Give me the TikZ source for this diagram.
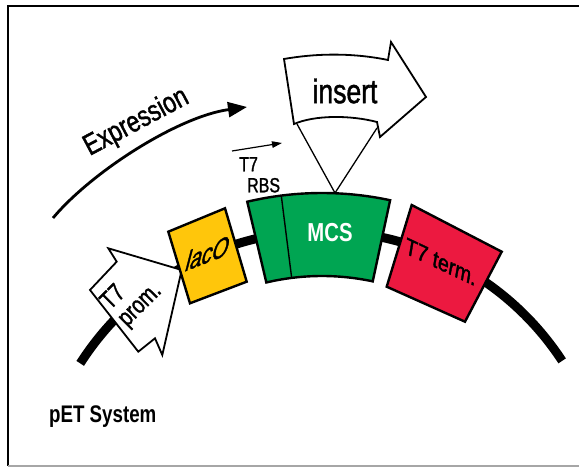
\documentclass[tikz,border=0pt]{standalone}
\usepackage{fontspec}
\setmainfont{Liberation Sans}[FakeStretch=0.78, FakeBold=1.4]
\newfontfamily\headfont{Liberation Sans Bold}[FakeStretch=0.78]
\usetikzlibrary{arrows.meta}
\definecolor{lacYellow}{RGB}{255,198,11}
\definecolor{mcsGreen}{RGB}{0,165,82}
\definecolor{termRed}{RGB}{236,25,64}
\tikzset{
  txt/.style={inner sep=0pt, text=black},
  part/.style={draw=black, line width=2.4pt, line join=miter},
  blockarrow/.style={draw=black, fill=white, line width=1.8pt, line join=miter},
}
\begin{document}
\begin{tikzpicture}[x=1pt,y=1pt]
\useasboundingbox (0,0) rectangle (579,468);
\clip (0,0) rectangle (579,468);
\fill[white] (0,0) rectangle (579,468);
% frame
\draw[line width=2pt] (584,462) -- (7.5,462) -- (7.5,2);
\draw[gray!70, line width=1.2pt] (7.5,2) -- (584,2);

% plasmid backbone
\draw[line width=9pt, shift={(322,-50)}] (147.4:287) arc[start angle=147.4, end angle=33.2, radius=287];

% T7 promoter block arrow
\draw[blockarrow] (181.7,198) -- (108.3,219.7) -- (116.7,206.3) -- (90,178) -- (138.3,116.3) -- (155,129.7) -- (162.3,113) -- cycle;

% lac operator (sheared box)
\draw[part, fill=lacYellow] (168.3,236.3) -- (225,259.7) -- (246.7,186.3) -- (190,164.7) -- cycle;

% multiple cloning site with the RBS segment
\filldraw[part, fill=mcsGreen, shift={(322,-50)}] (103.3:242) -- (103.3:325) arc[start angle=103.3, end angle=77.9, radius=325] -- (77.9:242) arc[start angle=77.9, end angle=103.3, radius=242] -- cycle;
\draw[line width=1.4pt, shift={(322,-50)}] (97.2:242) -- (97.2:325);

% T7 terminator (sheared box)
\draw[part, fill=termRed] (411.7,263) -- (501.7,216.3) -- (465,146.3) -- (386.7,181.3) -- cycle;

% insert block arrow
\draw[blockarrow] (284,409) .. controls (318,415) and (354,415) .. (388,408) -- (391,426) -- (426,371) -- (380,331) -- (377,346) .. controls (350,353) and (315,353) .. (294,344) -- cycle;
\coordinate (insL) at (297,344);
\coordinate (insR) at (377,340);
\coordinate (mcsTop) at (335,275);
\draw[line width=1.3pt] (insL) -- (mcsTop) -- (insR);

% expression direction
\coordinate (exA) at (53,250);
\coordinate (exB) at (247,361);
\draw[line width=2.8pt, -{Triangle[length=19pt,width=15pt]}] (exA) .. controls (91.6,296) and (177.7,351.3) .. (exB);
\coordinate (rbA) at (232,317);
\coordinate (rbB) at (282,325);
\draw[line width=1.2pt, -{Triangle[length=10pt,width=6.5pt]}] (rbA) -- (rbB);

% labels
\node[txt, rotate=28, font=\fontsize{29.5}{32}\selectfont] (expr) at (136.5,345.5) {Expression};
\node[txt, font=\fontsize{34}{36}\selectfont] (ins) at (345,377) {insert};
\node[txt, text=white, font=\headfont\fontsize{26}{28}\selectfont] (mcs) at (330,235.5) {MCS};
\node[txt, yslant=0.39, xslant=0.29, font=\fontsize{26.5}{28}\selectfont] (lacT) at (208,215) {lacO};
\node[txt, yslant=-0.47, xslant=0.16, font=\fontsize{24.4}{26}\selectfont] (termT) at (441,206) {T7 term.};
\node[txt, rotate=45, align=left, font=\fontsize{25}{24}\selectfont] (promT) at (132,171) {T7\\prom.};
\node[txt, align=left, anchor=north west, font=\fontsize{20.5}{21}\selectfont] (rbs) at (239,311) {T7\\\hspace*{8pt}RBS};
\node[txt, anchor=base west, font=\headfont\fontsize{24}{26}\selectfont] (pet) at (49,45) {pET System};
\end{tikzpicture}
\end{document}
